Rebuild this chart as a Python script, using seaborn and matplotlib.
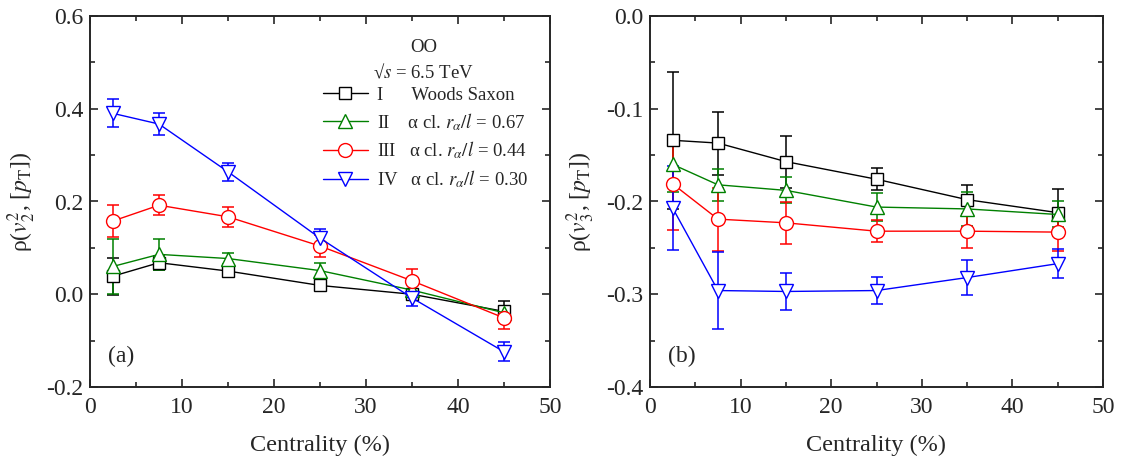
import numpy as np
import pandas as pd
import matplotlib
matplotlib.use("Agg")
import matplotlib.pyplot as plt
from matplotlib.lines import Line2D
from matplotlib.ticker import MultipleLocator, FormatStrFormatter
import seaborn as sns

# ---------------- data ----------------
centrality = [2.5, 7.5, 15, 25, 35, 45]

series_names = ["I", "II", "III", "IV"]
series_labels = ["I      Woods Saxon",
                 r"II    α cl. $r_\alpha/l$ = 0.67",
                 r"III   α cl. $r_\alpha/l$ = 0.44",
                 r"IV   α cl. $r_\alpha/l$ = 0.30"]

# panel (a): rho(v2^2, [pT])
v2_I   = [0.039, 0.068, 0.050, 0.019, 0.000, -0.037]
v2_I_err = [0.040, 0.015, 0.008, 0.008, 0.005, 0.022]
v2_II  = [0.060, 0.086, 0.077, 0.051, 0.009, -0.040]
v2_II_err = [0.060, 0.034, 0.012, 0.017, 0.010, 0.015]
v2_III = [0.158, 0.192, 0.167, 0.104, 0.029, -0.051]
v2_III_err = [0.035, 0.021, 0.022, 0.023, 0.025, 0.024]
v2_IV  = [0.390, 0.367, 0.264, 0.121, -0.008, -0.124]
v2_IV_err = [0.030, 0.023, 0.020, 0.020, 0.017, 0.020]

# panel (b): rho(v3^2, [pT])
v3_I   = [-0.134, -0.137, -0.157, -0.176, -0.198, -0.212]
v3_I_err = [0.074, 0.034, 0.028, 0.012, 0.016, 0.025]
v3_II  = [-0.160, -0.182, -0.188, -0.206, -0.208, -0.214]
v3_II_err = [0.030, 0.017, 0.014, 0.015, 0.018, 0.014]
v3_III = [-0.181, -0.219, -0.223, -0.232, -0.232, -0.233]
v3_III_err = [0.050, 0.034, 0.023, 0.012, 0.018, 0.020]
v3_IV  = [-0.207, -0.296, -0.297, -0.296, -0.282, -0.267]
v3_IV_err = [0.045, 0.042, 0.020, 0.015, 0.019, 0.016]

colors = ["black", "green", "red", "blue"]
markers = ["s", "^", "o", "v"]

# ---------------- style ----------------
sns.set_style("ticks")
plt.rcParams["font.family"] = ["Liberation Serif", "DejaVu Serif"]
plt.rcParams["mathtext.fontset"] = "stix"
plt.rcParams["font.size"] = 14

fig = plt.figure(figsize=(11.28, 4.61), dpi=100)
axA = fig.add_axes([90/1128, 1-387/461, 460/1128, 371/461])
axB = fig.add_axes([650/1128, 1-387/461, 453/1128, 371/461])

def draw(ax, ys, errs):
    for name, y, e, c, m in zip(series_names, ys, errs, colors, markers):
        df = pd.DataFrame({"x": centrality, "y": y})
        ax.errorbar(df["x"], df["y"], yerr=e, fmt="none", ecolor=c,
                    elinewidth=1.1, capsize=4, capthick=1.1, zorder=2)
        sns.lineplot(data=df, x="x", y="y", ax=ax, color=c, marker=m,
                     markersize=10 if m != "s" else 8.5,
                     markerfacecolor="white", markeredgecolor=c,
                     markeredgewidth=1.0, linewidth=1.0, zorder=3,
                     legend=False)

draw(axA, [v2_I, v2_II, v2_III, v2_IV], [v2_I_err, v2_II_err, v2_III_err, v2_IV_err])
draw(axB, [v3_I, v3_II, v3_III, v3_IV], [v3_I_err, v3_II_err, v3_III_err, v3_IV_err])

for ax in (axA, axB):
    ax.set_xlim(0, 50)
    ax.xaxis.set_major_locator(MultipleLocator(10))
    ax.xaxis.set_minor_locator(MultipleLocator(5))
    ax.tick_params(which="both", direction="in", top=True, right=True,
                   labelsize=17, width=1.2)
    ax.tick_params(which="major", length=6)
    ax.tick_params(which="minor", length=3.5)
    ax.tick_params(axis="x", pad=7)
    ax.tick_params(axis="y", pad=5)
    for s in ax.spines.values():
        s.set_linewidth(1.4)
    ax.set_xlabel("Centrality (%)", fontsize=17.5)

axA.set_ylim(-0.2, 0.6)
axA.yaxis.set_major_locator(MultipleLocator(0.2))
axA.yaxis.set_minor_locator(MultipleLocator(0.1))
axA.yaxis.set_major_formatter(FormatStrFormatter("%.1f"))
axA.set_ylabel(r"ρ($v_2^2$, [$p_{\rm T}$])", fontsize=17)

axB.set_ylim(-0.4, 0.0)
axB.yaxis.set_major_locator(MultipleLocator(0.1))
axB.yaxis.set_minor_locator(MultipleLocator(0.05))
axB.yaxis.set_major_formatter(FormatStrFormatter("%.1f"))
axB.set_ylabel(r"ρ($v_3^2$, [$p_{\rm T}$])", fontsize=17)

axA.yaxis.set_label_coords(-0.113, 0.5)
axB.yaxis.set_label_coords(-0.117, 0.5)
for ax in (axA, axB):
    ax.xaxis.set_label_coords(0.5, -0.128)

axA.text(0.04, 0.082, "(a)", transform=axA.transAxes, fontsize=17, va="center")
axB.text(0.04, 0.082, "(b)", transform=axB.transAxes, fontsize=17, va="center")

# legend
handles = [Line2D([], [], color=c, marker=m, markersize=10 if m != "s" else 8.5,
                  markerfacecolor="white", markeredgecolor=c, linewidth=1.0)
           for c, m in zip(colors, markers)]
axA.text(0.725, 0.915, "OO", transform=axA.transAxes, fontsize=13.5, ha="center", va="center")
axA.text(0.725, 0.85, "√$s$ = 6.5 TeV", transform=axA.transAxes, fontsize=13.5,
         ha="center", va="center")
axA.legend(handles, series_labels, loc="upper left", bbox_to_anchor=(0.49, 0.83),
           frameon=False, fontsize=13.5, handlelength=2.4, handletextpad=0.5,
           labelspacing=0.38, borderaxespad=0)

fig.savefig("out.png", dpi=100)
